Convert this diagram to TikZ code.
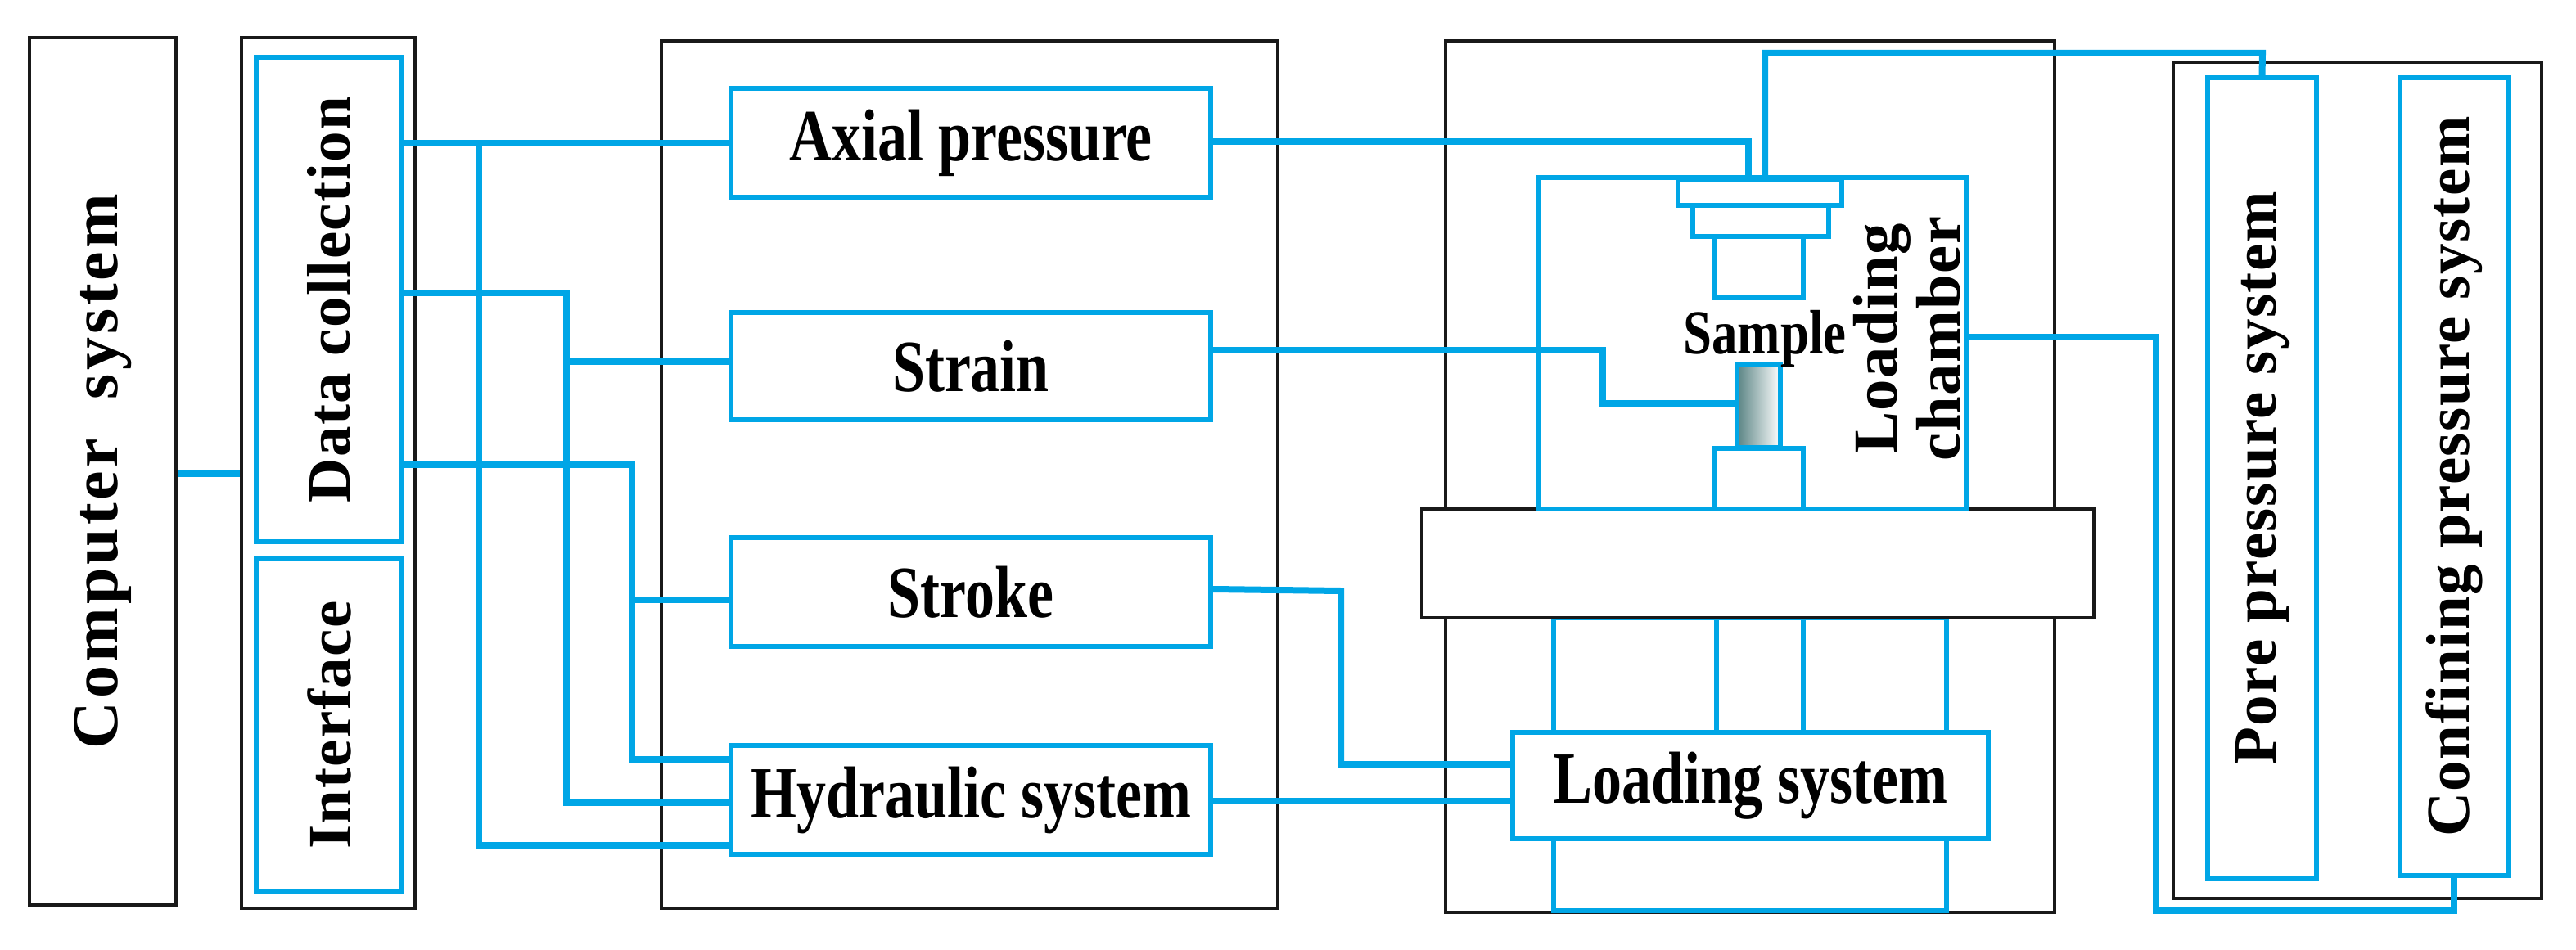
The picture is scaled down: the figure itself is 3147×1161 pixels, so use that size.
\documentclass[tikz,border=0pt]{standalone}
\usepackage{fontspec}
\setmainfont{Liberation Serif}
\usetikzlibrary{fit}
\definecolor{cb}{HTML}{00A6E6}
\begin{document}
\begin{tikzpicture}[x=0.3pt,y=-0.3pt,
 bb/.style={draw=black!90,line width=1.2pt,inner sep=0pt},
 bl/.style={draw=cb,line width=1.6pt,inner sep=0pt},
 ln/.style={draw=cb,line width=2.4pt},
 ht/.style={font=\bfseries\fontsize{27}{29}\selectfont,xscale=0.8},
 vt/.style={font=\bfseries\fontsize{22.5}{25}\selectfont\addfontfeatures{LetterSpace=2},rotate=90}]
\useasboundingbox (0,0) rectangle (3147,1161);
% left
\node[bb,fit={(36,46)(215,1106)}] (comp) {};
\node[vt,font=\bfseries\fontsize{24}{25}\selectfont\addfontfeatures{LetterSpace=5}] at (comp.center) {Computer\ \ system};
\node[bb,fit={(295,46)(507,1110)}] (dcout) {};
\node[bl,fit={(313,70)(491,662)}] (dc) {};
\node[vt] at (dc.center) {Data collection};
\node[bl,fit={(313,682)(491,1090)}] (intf) {};
\node[vt] at (intf.center) {Interface};
% middle
\node[bb,fit={(808,50)(1561,1110)}] (mid) {};
\node[bl,fit={(893,108)(1479,241)}] (ax) {};
\node[ht] at (ax.center) {Axial pressure};
\node[bl,fit={(893,382)(1479,513)}] (st) {};
\node[ht] at (st.center) {Strain};
\node[bl,fit={(893,657)(1479,790)}] (sk) {};
\node[ht] at (sk.center) {Stroke};
\node[bl,fit={(893,911)(1479,1044)}] (hy) {};
\node[ht] at (hy.center) {Hydraulic system};
% right part
\node[bb,fit={(1766,50)(2510,1115)}] (rp) {};
\node[bl,fill=white,fit={(1898,755)(2378,1113)}] (cyl) {};
\node[bl,fit={(2097,755)(2203,895)}] (rod) {};
\node[bb,fill=white,fit={(1737,622)(2558,755)}] (base) {};
\node[bl,fill=white,fit={(1879,217)(2402,622)}] (ch) {};
\node[bl,fit={(2050,219)(2250,251)}] (p1) {};
\node[bl,fit={(2068,251)(2234,289)}] (p2) {};
\node[bl,fit={(2095,289)(2203,364)}] (up) {};
\node[bl,fit={(2095,548)(2203,622)}] (lp) {};
\node[bl,left color=black!45!cyan!30!gray,right color=white,fit={(2122,446)(2175,547)}] (smp) {};
\node[font=\bfseries\fontsize{23}{24}\selectfont,xscale=0.82] (smpl) at (2156,414) {Sample};
\node[font=\bfseries\fontsize{23}{23}\selectfont\addfontfeatures{LetterSpace=2},rotate=90,align=center] (chl) at (2330,414) {Loading\\chamber};
\node[bl,fill=white,fit={(1848,895)(2429,1025)}] (ls) {};
\node[ht] at (ls.center) {Loading system};
% far right
\node[bb,fit={(2655,76)(3105,1098)}] (rbox) {};
\node[bl,fit={(2697,95)(2830,1074)}] (pore) {};
\node[vt] at (pore.center) {Pore pressure system};
\node[bl,fit={(2932,95)(3064,1070)}] (conf) {};
\node[vt] at (conf.center) {Confining pressure system};
% connectors
\draw[ln] (comp.east |- 0,579) -- (dcout.west |- 0,579);
\draw[ln] (dc.east |- 0,175) -- (ax.west |- 0,175);
\draw[ln] (585,175) -- (585,1033) -- (hy.west |- 0,1033);
\draw[ln] (dc.east |- 0,358) -- (692,358) -- (692,981) -- (hy.west |- 0,981);
\draw[ln] (692,442) -- (st.west |- 0,442);
\draw[ln] (dc.east |- 0,568) -- (772,568) -- (772,928) -- (hy.west |- 0,928);
\draw[ln] (772,733) -- (sk.west |- 0,733);
\draw[ln] (ax.east |- 0,173) -- (2136,173) -- (2136,219);
\draw[ln] (2156,219) -- (2156,65) -- (2764,65) -- (pore.north);
\draw[ln] (st.east |- 0,428) -- (1958,428) -- (1958,493) -- (smp.west |- 0,493);
\draw[ln] (sk.east |- 0,720) -- (1638,722) -- (1638,934) -- (ls.west |- 0,934);
\draw[ln] (hy.east |- 0,979) -- (ls.west |- 0,979);
\draw[ln] (ch.east |- 0,412) -- (2634,412) -- (2634,1113) -- (2998,1113) -- (conf.south);
\end{tikzpicture}
\end{document}
